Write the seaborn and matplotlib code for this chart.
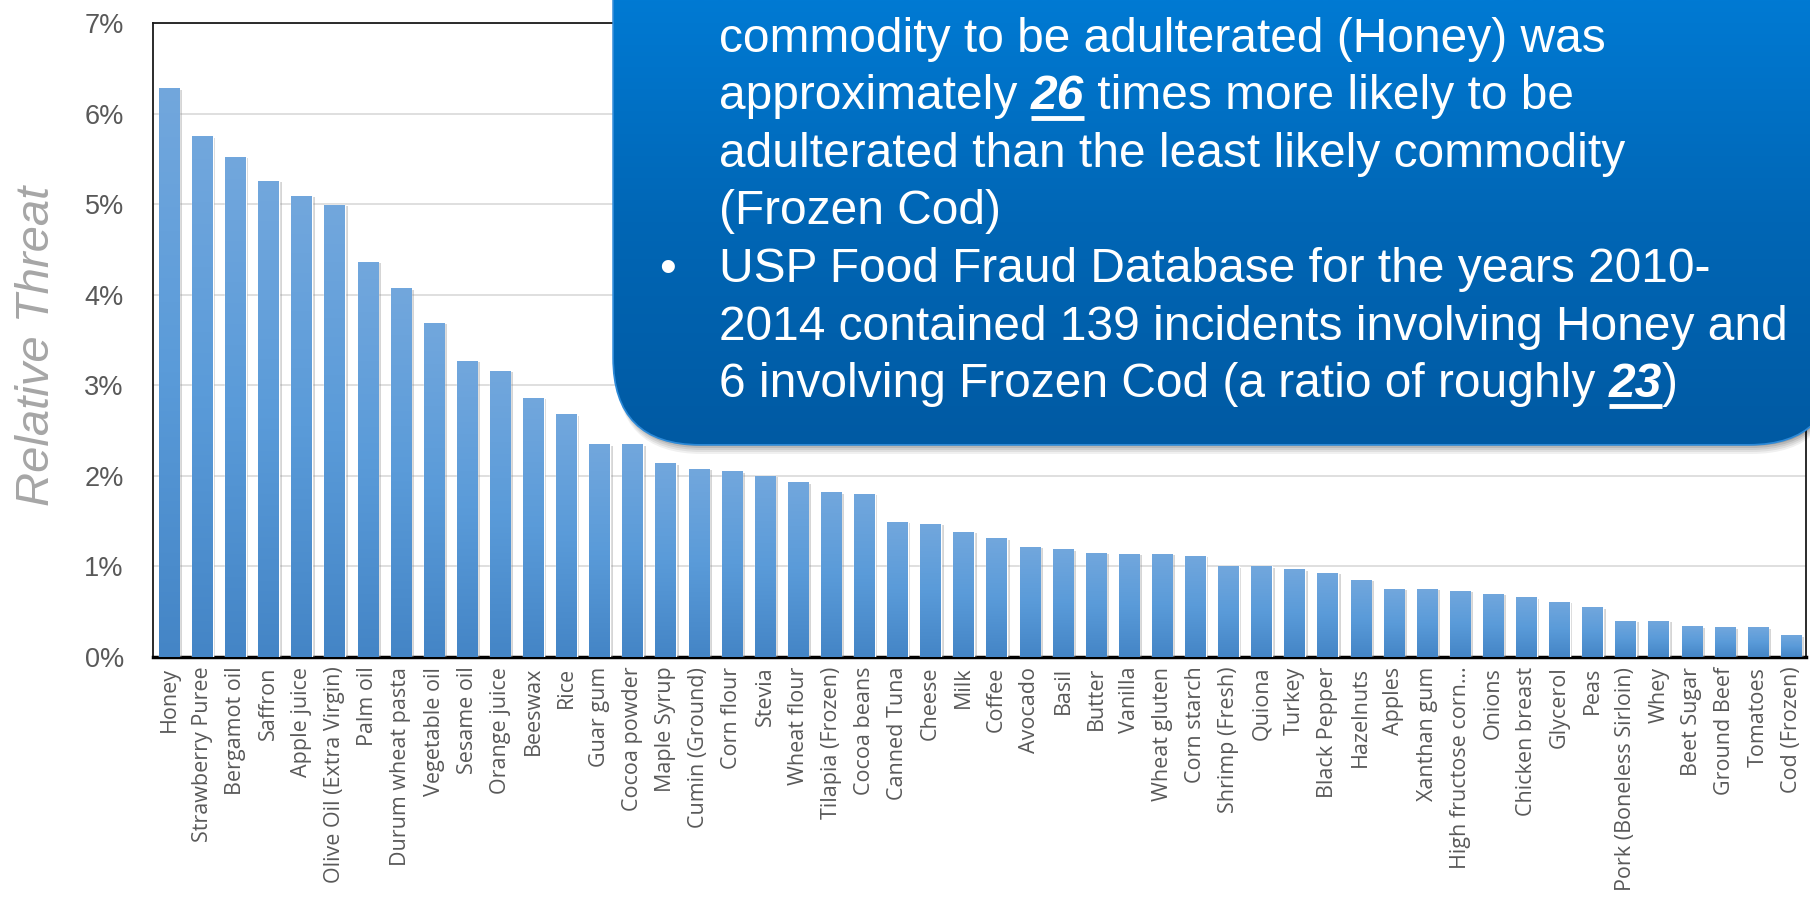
"""Relative adulteration threat by commodity, with the callout box on top."""

import matplotlib
matplotlib.use("Agg")

import matplotlib.pyplot as plt
import matplotlib.patheffects as pe
import numpy as np
import pandas as pd
import seaborn as sns
from matplotlib.colors import LinearSegmentedColormap
from matplotlib.patches import FancyBboxPatch


COMMODITIES = [
    "Honey", "Strawberry Puree", "Bergamot oil", "Saffron", "Apple juice",
    "Olive Oil (Extra Virgin)", "Palm oil", "Durum wheat pasta", "Vegetable oil",
    "Sesame oil", "Orange juice", "Beeswax", "Rice", "Guar gum", "Cocoa powder",
    "Maple Syrup", "Cumin (Ground)", "Corn flour", "Stevia", "Wheat flour",
    "Tilapia (Frozen)", "Cocoa beans", "Canned Tuna", "Cheese", "Milk", "Coffee",
    "Avocado", "Basil", "Butter", "Vanilla", "Wheat gluten", "Corn starch",
    "Shrimp (Fresh)", "Quiona", "Turkey", "Black Pepper", "Hazelnuts", "Apples",
    "Xanthan gum", "High fructose corn…", "Onions", "Chicken breast", "Glycerol",
    "Peas", "Pork (Boneless Sirloin)", "Whey", "Beet Sugar", "Ground Beef",
    "Tomatoes", "Cod (Frozen)",
]
# relative threat, in percent
THREAT_PCT = [
    6.28, 5.75, 5.52, 5.26, 5.09, 4.99, 4.36, 4.07, 3.69, 3.27,
    3.16, 2.86, 2.68, 2.35, 2.35, 2.14, 2.08, 2.05, 2.00, 1.93,
    1.82, 1.80, 1.49, 1.47, 1.38, 1.31, 1.22, 1.19, 1.15, 1.14,
    1.14, 1.12, 1.00, 1.00, 0.97, 0.93, 0.85, 0.75, 0.75, 0.73,
    0.70, 0.66, 0.61, 0.55, 0.40, 0.40, 0.34, 0.33, 0.33, 0.24,
]
Y_TICKS = [0, 1, 2, 3, 4, 5, 6, 7]

CALLOUT_LINES = [
    [("commodity to be adulterated (Honey) was", False)],
    [("approximately ", False), ("26", True), (" times more likely to be", False)],
    [("adulterated than the least likely commodity", False)],
    [("(Frozen Cod)", False)],
    [("USP Food Fraud Database for the years 2010-", False)],
    [("2014 contained 139 incidents involving Honey and", False)],
    [("6 involving Frozen Cod (a ratio of roughly ", False), ("23", True), (")", False)],
]

W, H = 1810, 917
sns.set_theme(style="white")
plt.rcParams["font.family"] = ["Liberation Sans", "DejaVu Sans"]

fig = plt.figure(figsize=(W / 100, H / 100), dpi=100)
fig.patch.set_facecolor("white")
ax = fig.add_axes([153 / W, 260 / H, 1653 / W, 634 / H])

df = pd.DataFrame({"commodity": COMMODITIES, "threat": THREAT_PCT})
sns.barplot(data=df, x="commodity", y="threat", color="#5b9bd5", width=0.62,
            ax=ax, zorder=3)

# per-bar vertical gradient, lighter at the top
bar_cmap = LinearSegmentedColormap.from_list("bar", ["#4485c6", "#5a9bd9", "#72a7dd"])
grad = np.linspace(0, 1, 256).reshape(-1, 1)
for patch in ax.patches:
    x0, w, h = patch.get_x(), patch.get_width(), patch.get_height()
    patch.set_path_effects([pe.SimplePatchShadow(offset=(2, -1), shadow_rgbFace="#888888",
                                                 alpha=0.35), pe.Normal()])
    im = ax.imshow(grad, extent=[x0, x0 + w, 0, h], origin="lower", aspect="auto",
                   cmap=bar_cmap, zorder=4)
    im.set_clip_path(patch)

ax.set_xlim(-0.49, len(COMMODITIES) - 0.55)
ax.set_ylim(0, 7)
ax.set_yticks(Y_TICKS)
ax.set_yticklabels([f"{v}%" for v in Y_TICKS])
ax.yaxis.grid(True, color="#d9d9d9", lw=1.2, zorder=0)
ax.set_axisbelow(True)
ax.set_xlabel("")
ax.set_ylabel("Relative Threat", fontsize=34, fontstyle="italic", color="#a6a6a6")
ax.yaxis.set_label_coords(-0.057, 0.49)
ax.tick_params(axis="y", length=0, pad=21, labelsize=19.5, labelcolor="#595959")
ax.tick_params(axis="x", length=0, pad=7, labelsize=15.5, labelcolor="#595959")
for lbl in ax.get_xticklabels():
    lbl.set_rotation(90)
    lbl.set_family(["Open Sans", "DejaVu Sans"])
for side in ["left", "top", "right"]:
    ax.spines[side].set_color("#1a1a1a")
    ax.spines[side].set_linewidth(1.3)
ax.spines["bottom"].set_color("black")
ax.spines["bottom"].set_linewidth(2.5)

# overlay in pixel coordinates for the callout
oax = fig.add_axes([0, 0, 1, 1], zorder=10)
oax.set_xlim(0, W)
oax.set_ylim(H, 0)
oax.axis("off")

box_x0, box_y0, box_x1, box_y1, radius = 614, -200, 1835, 444, 86
for k, a in enumerate([0.06, 0.07, 0.08, 0.1, 0.12]):
    off = 10 - 2 * k
    oax.add_patch(FancyBboxPatch((box_x0 + 2, box_y0 + off), box_x1 - box_x0, box_y1 - box_y0,
                                 boxstyle=f"round,pad=0,rounding_size={radius}",
                                 facecolor="#000000", edgecolor="none", alpha=a, zorder=1))
box = FancyBboxPatch((box_x0, box_y0), box_x1 - box_x0, box_y1 - box_y0,
                     boxstyle=f"round,pad=0,rounding_size={radius}",
                     facecolor="#0068b8", edgecolor="#2d8ad8", linewidth=2.5, zorder=2)
oax.add_patch(box)
box_cmap = LinearSegmentedColormap.from_list("box", ["#007ad3", "#0066b5", "#005aa3"])
bim = oax.imshow(np.linspace(0, 1, 256).reshape(-1, 1), extent=[box_x0, box_x1, box_y1, 0],
                 aspect="auto", cmap=box_cmap, zorder=2.5)
bim.set_clip_path(box)
oax.set_xlim(0, W)
oax.set_ylim(H, 0)

renderer = fig.canvas.get_renderer()
FS = 34.5


def text_width(s, bold):
    kw = dict(fontsize=FS, fontweight="bold" if bold else "normal",
              fontstyle="italic" if bold else "normal")
    t1 = oax.text(0, 0, s + "|", **kw)
    t2 = oax.text(0, 0, "|", **kw)
    w = t1.get_window_extent(renderer).width - t2.get_window_extent(renderer).width
    t1.remove()
    t2.remove()
    return w


x_text, base0, step = 719, 51.5, 57.6
for i, parts in enumerate(CALLOUT_LINES):
    y = base0 + step * i
    x = x_text
    if i == 4:
        oax.text(659, y, "•", fontsize=FS, color="white", va="baseline", ha="left", zorder=5)
    for s, bold in parts:
        oax.text(x, y, s, fontsize=FS, color="white", va="baseline", ha="left", zorder=5,
                 fontweight="bold" if bold else "normal",
                 fontstyle="italic" if bold else "normal")
        w = text_width(s, bold)
        if bold:
            oax.plot([x, x + w], [y + 9, y + 9], color="white", lw=3.5,
                     solid_capstyle="butt", zorder=5)
        x += w

fig.savefig("out.png", dpi=100, facecolor="white")
